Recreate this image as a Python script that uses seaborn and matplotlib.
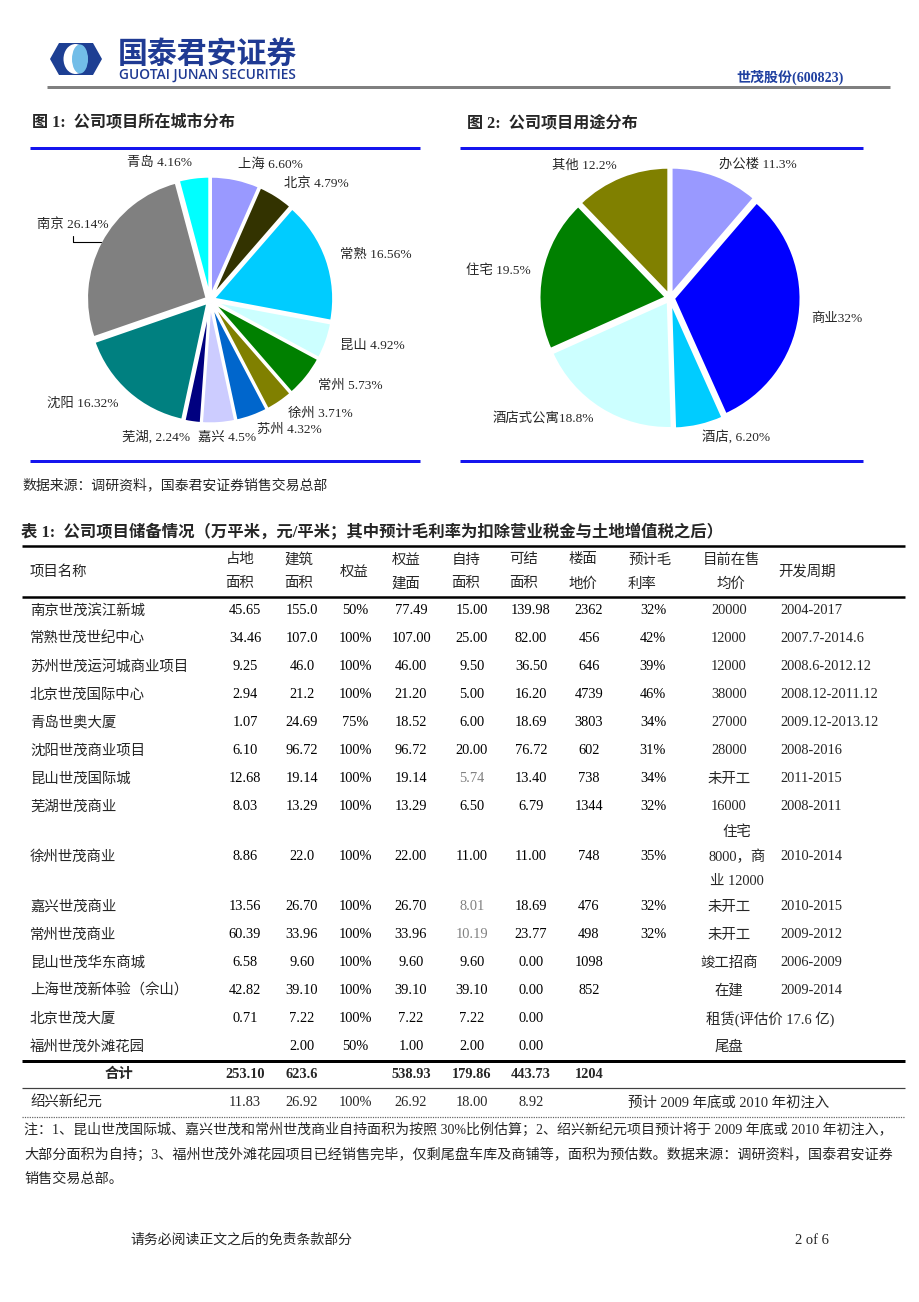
import numpy as np
import matplotlib
matplotlib.use('Agg')
import matplotlib.pyplot as plt
import matplotlib.patches as mpatches
import seaborn as sns

# ---------------- data ----------------
city_names = ['上海 ', '北京 ', '常熟 ', '昆山 ', '常州 ', '徐州 ', '苏州 ', '嘉兴 ', '芜湖, ', '沈阳 ', '南京 ', '青岛 ']
city_shares = ['6.60', '4.79', '16.56', '4.92', '5.73', '3.71', '4.32', '4.5', '2.24', '16.32', '26.14', '4.16']
city_colors = ['#9999FF', '#333300', '#00CCFF', '#CCFFFF', '#008000', '#808000',
               '#0066CC', '#CCCCFF', '#000080', '#008080', '#808080', '#00FFFF']

use_names = ['办公楼 ', '商业', '酒店, ', '酒店式公寓', '住宅 ', '其他 ']
use_shares = ['11.3', '32', '6.20', '18.8', '19.5', '12.2']
use_colors = ['#9999FF', '#0000FF', '#00CCFF', '#CCFFFF', '#008000', '#808000']

projects = ['南京世茂滨江新城', '常熟世茂世纪中心', '苏州世茂运河城商业项目', '北京世茂国际中心', '青岛世奥大厦',
            '沈阳世茂商业项目', '昆山世茂国际城', '芜湖世茂商业', '徐州世茂商业', '嘉兴世茂商业', '常州世茂商业',
            '昆山世茂华东商城', '上海世茂新体验（佘山）', '北京世茂大厦', '福州世茂外滩花园']
land_area = ['45.65', '34.46', '9.25', '2.94', '1.07', '6.10', '12.68', '8.03', '8.86', '13.56', '60.39', '6.58', '42.82', '0.71', '']
gfa = ['155.0', '107.0', '46.0', '21.2', '24.69', '96.72', '19.14', '13.29', '22.0', '26.70', '33.96', '9.60', '39.10', '7.22', '2.00']
equity = ['50%', '100%', '100%', '100%', '75%', '100%', '100%', '100%', '100%', '100%', '100%', '100%', '100%', '100%', '50%']
equity_gfa = ['77.49', '107.00', '46.00', '21.20', '18.52', '96.72', '19.14', '13.29', '22.00', '26.70', '33.96', '9.60', '39.10', '7.22', '1.00']
held_area = ['15.00', '25.00', '9.50', '5.00', '6.00', '20.00', '5.74', '6.50', '11.00', '8.01', '10.19', '9.60', '39.10', '7.22', '2.00']
held_estimated = [False, False, False, False, False, False, True, False, False, True, True, False, False, False, False]
settle_area = ['139.98', '82.00', '36.50', '16.20', '18.69', '76.72', '13.40', '6.79', '11.00', '18.69', '23.77', '0.00', '0.00', '0.00', '0.00']
land_price = ['2362', '456', '646', '4739', '3803', '602', '738', '1344', '748', '476', '498', '1098', '852', '', '']
gross_margin = ['32%', '42%', '39%', '46%', '34%', '31%', '34%', '32%', '35%', '32%', '32%', '', '', '', '']
sale_price = ['20000', '12000', '12000', '38000', '27000', '28000', '未开工', '16000', '住宅\n8000，商\n业 12000',
              '未开工', '未开工', '竣工招商', '在建', '租赁(评估价 17.6 亿)', '尾盘']
dev_period = ['2004-2017', '2007.7-2014.6', '2008.6-2012.12', '2008.12-2011.12', '2009.12-2013.12', '2008-2016',
              '2011-2015', '2008-2011', '2010-2014', '2010-2015', '2009-2012', '2006-2009', '2009-2014', '', '']

total_values = ['253.10', '623.6', '', '538.93', '179.86', '443.73', '1204']
sx_name = '绍兴新纪元'
sx_values = ['11.83', '26.92', '100%', '26.92', '18.00', '8.92', '']
sx_note = '预计 2009 年底或 2010 年初注入'

header_cols = [('占地', '面积'), ('建筑', '面积'), ('权益',), ('权益', '建面'), ('自持', '面积'),
               ('可结', '面积'), ('楼面', '地价'), ('预计毛', '利率'), ('目前在售', '均价')]

notes = ['注：1、昆山世茂国际城、嘉兴世茂和常州世茂商业自持面积为按照 30%比例估算；2、绍兴新纪元项目预计将于 2009 年底或 2010 年初注入，',
         '大部分面积为自持；3、福州世茂外滩花园项目已经销售完毕，仅剩尾盘车库及商铺等，面积为预估数。数据来源：调研资料，国泰君安证券',
         '销售交易总部。']

# ---------------- style ----------------
sns.set_theme(style='white')
FONT = ['Liberation Serif', 'Noto Sans CJK SC', 'DejaVu Sans']
plt.rcParams['font.family'] = FONT
plt.rcParams['axes.unicode_minus'] = False

W, H = 920, 1302
fig = plt.figure(figsize=(W / 100, H / 100), dpi=100)
page = fig.add_axes([0, 0, 1, 1])
page.set_xlim(0, W)
page.set_ylim(H, 0)
page.axis('off')
renderer = fig.canvas.get_renderer()


def lw(px):
    return px * 72 / 100


def hline(y, x0, x1, width, color='black', ls='-'):
    page.plot([x0, x1], [y, y], color=color, lw=lw(width), ls=ls, solid_capstyle='butt')


def fit(t, width_px):
    bb = t.get_window_extent(renderer)
    t.set_fontsize(t.get_fontsize() * width_px / bb.width)
    return t


def txt(x, y, s, size=10.4, ha='left', va='center', **kw):
    return page.text(x, y, s, fontsize=size, ha=ha, va=va, **kw)


# ---------------- header ----------------
logo_blue = '#1d3f93'
hex_pts = [(59, 43), (93, 43), (102, 59), (93, 75), (59, 75), (50, 59)]
page.add_patch(mpatches.Polygon(hex_pts, closed=True, fc=logo_blue, ec='none', joinstyle='round'))
page.add_patch(mpatches.Ellipse((75.5, 59), 24, 30, fc='white', ec='none'))
page.add_patch(mpatches.Ellipse((80, 59), 16, 29, fc='#72bde8', ec='none'))
fit(txt(118, 54.5, '国泰君安证券', size=21, fontweight='bold', color='#1f3a93',
        family=['Noto Sans CJK SC']), 179)
fit(txt(119, 75.5, 'GUOTAI JUNAN SECURITIES', size=8, color='#1f3a93', fontweight='semibold',
        family=['Open Sans']), 176)
fit(txt(736, 77, '世茂股份(600823)', size=9, color='#2040a0', fontweight='bold'), 107)
hline(87, 47, 890, 3, color='#808080')

# ---------------- figure titles & rules ----------------
txt(32, 123, '图 1:  公司项目所在城市分布', size=11.6, fontweight='bold')
txt(467, 123, '图 2:  公司项目用途分布', size=11.6, fontweight='bold')
hline(148, 30, 420, 3, color='#1515ee')
hline(148, 460, 863, 3, color='#1515ee')
hline(461, 30, 420, 3, color='#1515ee')
hline(461, 460, 863, 3, color='#1515ee')


def draw_pie(cx, cy, R, names, shares, colors, lab_r, leader_idx=None):
    L = 1.6
    size = 2 * L * R
    ax = fig.add_axes([(cx - size / 2) / W, 1 - (cy + size / 2) / H, size / W, size / H])
    vals = [float(s) for s in shares]
    wedges, _ = ax.pie(vals, colors=sns.color_palette(colors), startangle=90, counterclock=False,
                       explode=[0.03] * len(vals),
                       wedgeprops=dict(edgecolor='white', linewidth=lw(2.5)))
    ax.set_xlim(-L, L)
    ax.set_ylim(-L, L)
    ax.set_aspect('equal')
    ax.axis('off')
    for i, (w, n, s) in enumerate(zip(wedges, names, shares)):
        th = np.deg2rad((w.theta1 + w.theta2) / 2)
        c, sn = np.cos(th), np.sin(th)
        label = f'{n}{s}%'
        if leader_idx is not None and i == leader_idx:
            ex, ey = 1.03 * c, 1.03 * sn
            lx = ex - 0.23
            ax.plot([lx, lx, ex], [ey + 0.05, ey, ey], color='black', lw=0.8)
            ax.text(lx, ey + 0.145, label, ha='center', va='center', fontsize=9.6)
            continue
        if abs(c) < 0.1:
            ax.text(lab_r * c + 0.06, lab_r * sn, label, ha='center', va='center', fontsize=9.6)
        else:
            ax.text(lab_r * c, lab_r * sn, label, ha='left' if c > 0 else 'right', va='center', fontsize=9.6)
    return ax


draw_pie(210, 300, 120, city_names, city_shares, city_colors, 1.15, leader_idx=10)
draw_pie(670, 298, 127, use_names, use_shares, use_colors, 1.12)

txt(22, 485, '数据来源：调研资料，国泰君安证券销售交易总部', size=10)

# ---------------- table ----------------
txt(21, 533, '表 1:  公司项目储备情况（万平米，元/平米；其中预计毛利率为扣除营业税金与土地增值税之后）',
    size=11.8, fontweight='bold')
TX0, TX1 = 22, 905
hline(546, TX0, TX1, 2.5)
hline(597, TX0, TX1, 2.5)

name_x = 30
col_x = [245, 302, 355, 411, 472, 531, 589, 653, 729]
hdr_x = [240, 299, 354, 406, 466, 524, 583, 628, 731]
period_x = 780

txt(name_x, 572, '项目名称')
for hx, lines in zip(hdr_x, header_cols):
    ha = 'left' if lines[0] == '预计毛' else 'center'
    if len(lines) == 1:
        txt(hx, 572, lines[0], ha=ha)
    else:
        txt(hx, 560, lines[0], ha=ha)
        txt(hx, 584, lines[1], ha=ha)
txt(778, 572, '开发周期')

row_h = [72 if '\n' in p else 28 for p in sale_price]
tops = 597 + np.concatenate([[0], np.cumsum(row_h)[:-1]])
centers = tops + np.array(row_h) / 2

for i, yc in enumerate(centers):
    txt(name_x, yc, projects[i])
    vals = [land_area[i], gfa[i], equity[i], equity_gfa[i], held_area[i],
            settle_area[i], land_price[i], gross_margin[i]]
    for j, v in enumerate(vals):
        color = '#808080' if (j == 4 and held_estimated[i]) else 'black'
        txt(col_x[j], yc, v, ha='center', color=color)
    sp = sale_price[i]
    if '\n' in sp:
        parts = sp.split('\n')
        for k, part in enumerate(parts):
            txt(col_x[8] + 8, yc + (k - (len(parts) - 1) / 2) * 24.5, part, ha='center')
    elif dev_period[i] == '' and len(sp) > 6:
        txt(706, yc, sp, ha='left')
    else:
        txt(col_x[8], yc, sp, ha='center')
    txt(period_x, yc, dev_period[i])

y_tot_top = tops[-1] + row_h[-1]
hline(y_tot_top, TX0, TX1, 3)
yt = y_tot_top + 13
txt(119, yt, '合计', ha='center', fontweight='bold')
for j, v in enumerate(total_values):
    txt(col_x[j], yt, v, ha='center', fontweight='bold')
hline(y_tot_top + 27, TX0, TX1, 1.2, color='#404040')
ys = y_tot_top + 42
txt(name_x, ys, sx_name)
for j, v in enumerate(sx_values):
    txt(col_x[j], ys, v, ha='center')
txt(col_x[8], ys, sx_note, ha='center')
hline(y_tot_top + 56, TX0, TX1, 1.2, color='#606060', ls=(0, (1, 1)))

# notes
n1 = fit(txt(24, 1130, notes[0], size=10), 866)
n2 = fit(txt(24, 1155, notes[1], size=10), 866)
txt(24, 1179, notes[2], size=n2.get_fontsize())

# footer
txt(130, 1240, '请务必阅读正文之后的免责条款部分', size=10)
txt(795, 1240, '2 of 6', size=10.5)

fig.savefig('out.png', dpi=100)
